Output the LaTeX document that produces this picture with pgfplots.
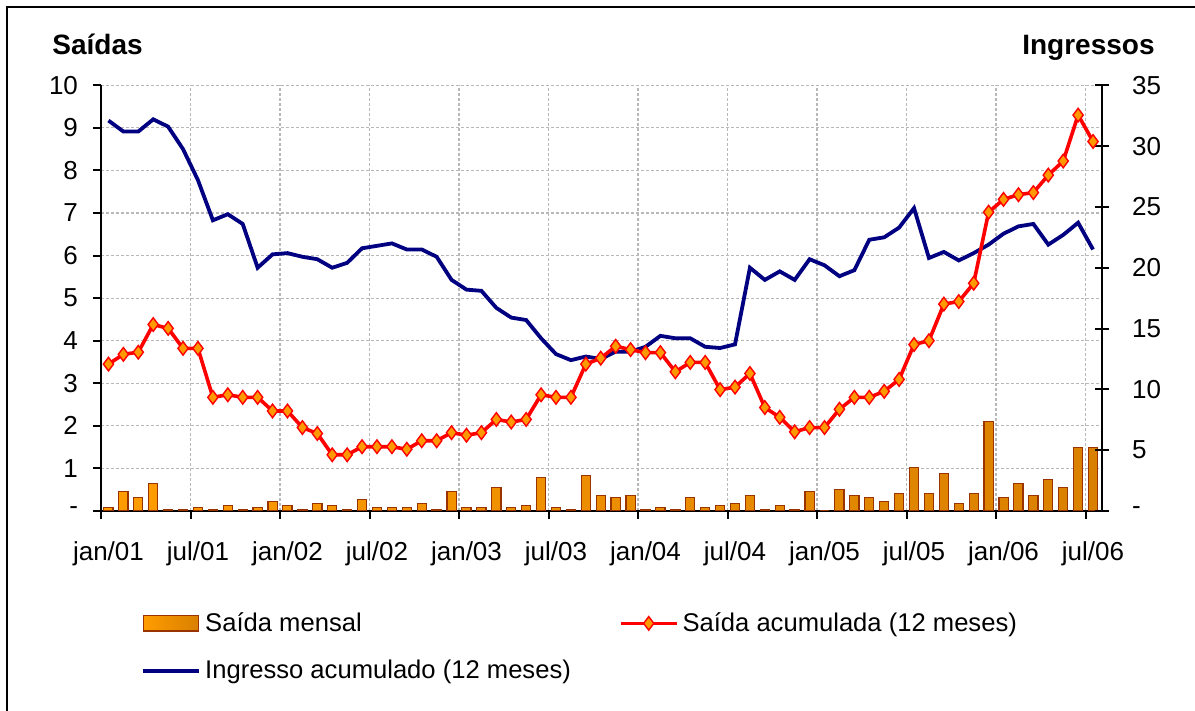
\documentclass[border=0pt]{standalone}
\usepackage{fontspec}
\setmainfont{Liberation Sans}
\usepackage{pgfplots}
\pgfplotsset{compat=1.18}
\definecolor{barL}{HTML}{FF9C00}
\definecolor{barR}{HTML}{D98000}
\definecolor{baredge}{HTML}{993300}
\definecolor{navyc}{HTML}{000080}
\definecolor{gridc}{HTML}{B8B8B8}
\definecolor{mkfill}{HTML}{FF9900}

\pgfplotstableread{
i bar red blue
0 0.08 3.45 32.1
1 0.46 3.68 31.2
2 0.32 3.73 31.2
3 0.65 4.38 32.2
4 0.03 4.29 31.6
5 0.03 3.82 29.75
6 0.08 3.82 27.2
7 0.03 2.67 23.9
8 0.13 2.73 24.4
9 0.03 2.67 23.6
10 0.08 2.67 20.0
11 0.22 2.35 21.1
12 0.13 2.35 21.2
13 0.03 1.96 20.9
14 0.17 1.82 20.7
15 0.13 1.32 20.0
16 0.03 1.32 20.4
17 0.27 1.51 21.6
18 0.08 1.51 21.8
19 0.08 1.51 22.0
20 0.08 1.45 21.5
21 0.17 1.65 21.5
22 0.03 1.65 20.9
23 0.46 1.84 19.0
24 0.08 1.78 18.2
25 0.08 1.84 18.1
26 0.55 2.15 16.7
27 0.08 2.09 15.9
28 0.13 2.15 15.7
29 0.79 2.73 14.2
30 0.08 2.67 12.9
31 0.03 2.67 12.4
32 0.83 3.45 12.7
33 0.36 3.59 12.5
34 0.31 3.87 13.1
35 0.36 3.79 13.1
36 0.03 3.72 13.5
37 0.08 3.72 14.4
38 0.03 3.27 14.2
39 0.31 3.49 14.2
40 0.08 3.49 13.5
41 0.13 2.85 13.4
42 0.17 2.91 13.7
43 0.36 3.23 20.0
44 0.03 2.43 19.0
45 0.13 2.20 19.7
46 0.03 1.86 19.0
47 0.46 1.96 20.7
48 0.00 1.96 20.2
49 0.50 2.39 19.3
50 0.36 2.67 19.8
51 0.31 2.67 22.3
52 0.22 2.81 22.5
53 0.41 3.09 23.3
54 1.02 3.91 24.9
55 0.41 4.00 20.8
56 0.88 4.86 21.3
57 0.17 4.92 20.6
58 0.41 5.35 21.2
59 2.11 7.02 21.9
60 0.31 7.32 22.8
61 0.65 7.43 23.4
62 0.36 7.48 23.6
63 0.74 7.89 21.9
64 0.55 8.22 22.7
65 1.50 9.30 23.7
66 1.50 8.68 21.5
}\datatable

\pgfplotsset{
  common/.style={
    at={(50.5pt,100pt)}, anchor=south west,
    scale only axis, width=500.5pt, height=212.85pt,
    xmin=-0.5, xmax=66.6,
  },
  linelegend/.style={legend image code/.code={\draw[mark repeat=2,mark phase=2,##1] plot coordinates {(0pt,0pt) (14pt,0pt) (28pt,0pt)};}},
  barlegend/.style={legend image code/.code={\draw[##1] (0pt,-3.8pt) rectangle (27.5pt,3.8pt);}},
}

\begin{document}
\begin{tikzpicture}
\useasboundingbox (0pt,0pt) rectangle (597.5pt,355.5pt);
\draw[line width=1pt] (3.5pt,-5pt) -- (3.5pt,352pt) -- (605pt,352pt);

% left axis: grid, bars, legend
\begin{axis}[
  common, ymin=0, ymax=10,
  axis x line*=bottom, axis y line*=left,
  axis line style={-, line width=1pt, black},
  xtick={-0.5,5.5,...,65.5}, xticklabels={},
  extra x ticks={0,6,...,66},
  extra x tick labels={jan/01,jul/01,jan/02,jul/02,jan/03,jul/03,jan/04,jul/04,jan/05,jul/05,jan/06,jul/06},
  extra x tick style={major tick length=0pt, grid=none, xticklabel style={yshift=-12pt}},
  ytick={0,...,10}, yticklabels={-\hspace{5pt},1,2,3,4,5,6,7,8,9,10},
  grid=major,
  major grid style={gridc, dash pattern=on 1.5pt off 1pt, line width=0.6pt},
  tick align=outside, major tick length=4pt,
  tick style={black, line width=1pt},
  yticklabel style={xshift=-4pt, font=\fontsize{13}{15}\selectfont},
  xticklabel style={font=\fontsize{13}{15}\selectfont},
  legend columns=2,
  legend cell align=left,
  legend style={at={(0.04,-0.228)}, anchor=north west,
    draw=none, fill=none, font=\fontsize{12.8}{15}\selectfont,
    /tikz/every even column/.append style={column sep=22pt},
    row sep=9pt, inner sep=0pt},
  linelegend,
]
\addplot[ybar, bar width=4.6pt, left color=barL, right color=barR, draw=baredge, line width=0.6pt, barlegend]
  table[x=i, y=bar] {\datatable};
\addlegendentry{Saída mensal}
\addlegendimage{red, line width=1.8pt, mark=diamond*, mark size=3.4pt,
  mark options={fill=mkfill, draw=red, line width=0.7pt}}
\addlegendentry{Saída acumulada (12 meses)}
\addlegendimage{navyc, line width=1.9pt}
\addlegendentry{Ingresso acumulado (12 meses)}
\end{axis}

% right axis: Ingressos
\begin{axis}[
  common, ymin=0, ymax=35,
  axis x line*=bottom, axis y line*=right,
  x axis line style={draw=none}, xtick=\empty,
  y axis line style={-, line width=1pt, black},
  ytick={0,5,...,35}, yticklabels={-,5,10,15,20,25,30,35},
  tick align=center, major tick length=7pt,
  tick style={black, line width=1pt},
  yticklabel style={anchor=west, xshift=8pt, font=\fontsize{13}{15}\selectfont},
]
\addplot[navyc, line width=1.9pt] table[x=i, y=blue] {\datatable};
\end{axis}

% overlay axis for the red line (left scale)
\begin{axis}[
  common, ymin=0, ymax=10,
  axis line style={draw=none}, xtick=\empty, ytick=\empty,
]
\addplot[red, line width=1.8pt, mark=diamond*, mark size=3.4pt,
  mark options={fill=mkfill, draw=red, line width=0.7pt}]
  table[x=i, y=red] {\datatable};
\end{axis}

\node[anchor=base west, font=\fontsize{14}{16}\selectfont\bfseries, inner sep=0pt] at (26pt,328pt) {Saídas};
\node[anchor=base east, font=\fontsize{14}{16}\selectfont\bfseries, inner sep=0pt] at (577.5pt,328pt) {Ingressos};
\end{tikzpicture}
\end{document}
